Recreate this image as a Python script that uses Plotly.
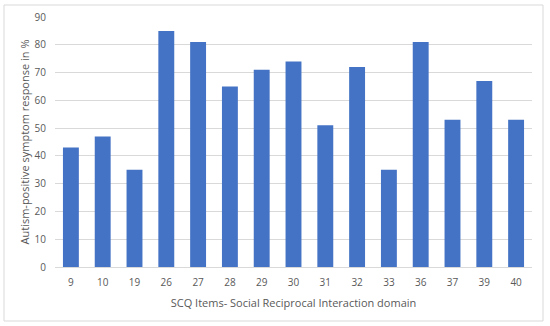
import plotly.graph_objects as go

items = ["9", "10", "19", "26", "27", "28", "29", "30", "31", "32", "33", "36", "37", "39", "40"]
values = [43, 47, 35, 85, 81, 65, 71, 74, 51, 72, 35, 81, 53, 67, 53]
y_ticks = [0, 10, 20, 30, 40, 50, 60, 70, 80, 90]

L, R, T, B = 55, 18, 17, 59
W, H = 550, 326
pw, ph = W - L - R, H - T - B

fig = go.Figure(go.Bar(x=items, y=values, marker=dict(color="#4472C4", line=dict(width=0)), width=0.5))

fig.update_layout(
    width=W, height=H,
    margin=dict(l=L, r=R, t=T, b=B, autoexpand=False),
    paper_bgcolor="white", plot_bgcolor="white",
    font=dict(family="Open Sans, Liberation Sans, sans-serif", size=10, color="#595959"),
    showlegend=False,
    xaxis=dict(
        type="category", showgrid=False, showline=True, linecolor="#d9d9d9", linewidth=1,
        ticks="", tickfont=dict(size=10, color="#595959"), automargin=False,
        ticklabelstandoff=6,
        title=dict(text="SCQ Items- Social Reciprocal Interaction domain", font=dict(size=11, color="#595959"), standoff=11),
    ),
    yaxis=dict(
        range=[0, 90], tickvals=y_ticks, showgrid=True, gridcolor="#d9d9d9", gridwidth=1,
        zeroline=False, showline=False, ticks="", tickfont=dict(size=10, color="#595959"), automargin=False,
        ticklabelstandoff=8,
        title=dict(text="Autism-positive symptom response in %", font=dict(size=11, color="#595959"), standoff=2),
    ),
    shapes=[dict(
        type="rect", xref="paper", yref="paper",
        x0=(4 - L) / pw, x1=(543 - L) / pw,
        y0=(H - B - 321) / ph, y1=(H - B - 5) / ph,
        line=dict(color="#d9d9d9", width=1), fillcolor="rgba(0,0,0,0)", layer="below",
    )],
)

fig.write_html(
    "out.html",
    config={"displayModeBar": False},
    post_script="document.body.style.margin='0';document.body.style.overflow='hidden';",
)
